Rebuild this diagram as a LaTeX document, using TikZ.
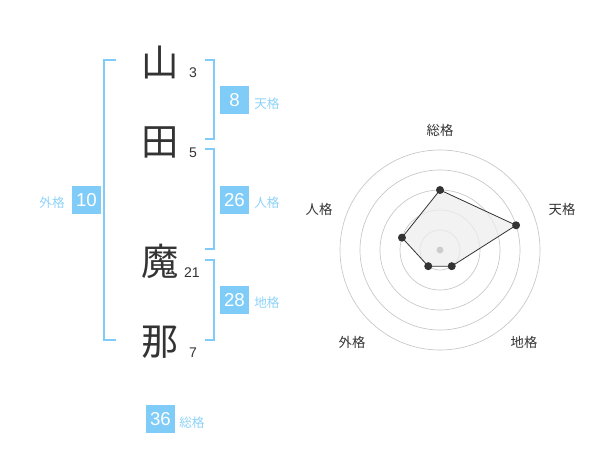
\documentclass[tikz,border=0pt]{standalone}
\usepackage{fontspec}
\setmainfont{Liberation Sans}
\newfontfamily\jp{Noto Sans CJK JP}
\definecolor{kblue}{HTML}{7FCCF8}
\definecolor{klabel}{HTML}{8ED2F8}
\definecolor{kdark}{HTML}{333333}
\begin{document}
\begin{tikzpicture}[x=0.75pt,y=-0.75pt,
  kanji/.style={font=\jp\fontsize{28}{30}\selectfont,text=kdark,inner sep=0},
  strokes/.style={font=\fontsize{10.5}{12}\selectfont,text=kdark,inner sep=0},
  bracket/.style={draw=kblue,line width=1.5pt},
  numbox/.style={fill=kblue,text=white,minimum width=21.75pt,minimum height=21pt,inner sep=0,font=\fontsize{14}{15}\selectfont},
  kakulabel/.style={font=\jp\fontsize{9.5}{11}\selectfont,text=klabel,inner sep=0},
  radarlabel/.style={font=\jp\fontsize{10}{11}\selectfont,text=kdark,inner sep=0},
  ring/.style={draw=black!22,line width=0.5pt},
  dot/.style={circle,fill=kdark,minimum size=6pt,inner sep=0}
]
\useasboundingbox (0,0) rectangle (600,470);
% names
\node[kanji] (k1) at (160,62) {山};
\node[kanji] (k2) at (160,142) {田};
\node[kanji] (k3) at (160,261) {魔};
\node[kanji] (k4) at (160,342) {那};
\node[strokes] (s1) at (193,73) {3};
\node[strokes] (s2) at (193,153) {5};
\node[strokes] (s3) at (192,273) {21};
\node[strokes] (s4) at (193,353) {7};
% brackets
\draw[bracket] (116,60) -- (104,60) -- (104,340) -- (116,340);
\draw[bracket] (205,60) -- (214,60) -- (214,139) -- (205,139);
\draw[bracket] (205,149) -- (214,149) -- (214,249) -- (205,249);
\draw[bracket] (205,260) -- (214,260) -- (214,340) -- (205,340);
% boxes
\node[numbox] (ten) at (234.5,100) {8};
\node[numbox] (jin) at (234.5,200) {26};
\node[numbox] (chi) at (234.5,300) {28};
\node[numbox] (gai) at (86.5,200) {10};
\node[numbox] (sou) at (160.5,419) {36};
\node[kakulabel,anchor=west] (tenl) at (254,104) {天格};
\node[kakulabel,anchor=west] (jinl) at (254,203) {人格};
\node[kakulabel,anchor=west] (chil) at (254,303) {地格};
\node[kakulabel,anchor=east] (gail) at (65,203) {外格};
\node[kakulabel,anchor=west] (soul) at (179,423) {総格};
% radar
\coordinate (c) at (440,250);
\foreach \r in {15,30,45,60,75} \draw[ring] (c) circle[radius=\r pt];
\path (c) ++(-90:60) coordinate (p1)
      (c) ++(-18:80) coordinate (p2)
      (c) ++(54:20) coordinate (p3)
      (c) ++(126:20) coordinate (p4)
      (c) ++(198:40) coordinate (p5);
\filldraw[fill=black!7,draw=kdark,line width=0.6pt,fill opacity=0.75] (p1) -- (p2) -- (p3) -- (p4) -- (p5) -- cycle;
\fill[black!20] (c) circle[radius=2.6pt];
\foreach \p in {p1,p2,p3,p4,p5} \node[dot] at (\p) {};
\node[radarlabel] (r1) at (440,130) {総格};
\node[radarlabel] (r2) at (562,209) {天格};
\node[radarlabel] (r3) at (524,342) {地格};
\node[radarlabel] (r4) at (352,342) {外格};
\node[radarlabel] (r5) at (319,209) {人格};
\end{tikzpicture}
\end{document}
